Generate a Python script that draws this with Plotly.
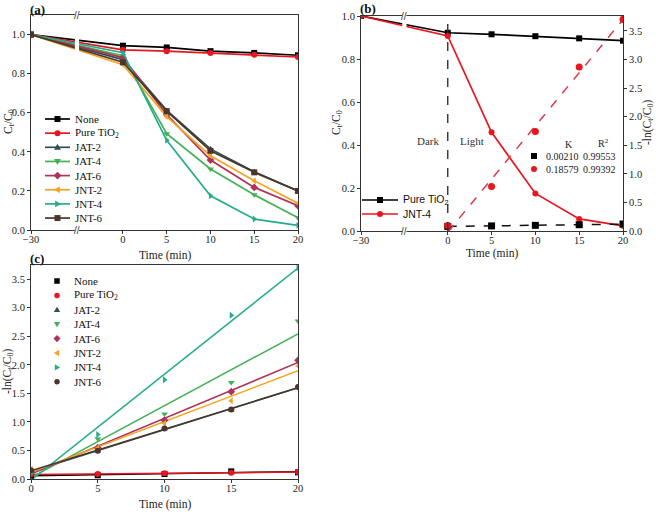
import numpy as np
import plotly.graph_objects as go

W, H = 656, 512

# ---------------- data ----------------
time_a = [-30, 0, 5, 10, 15, 20]
time_c = [0, 5, 10, 15, 20]
time_ticks = [-30, 0, 5, 10, 15, 20]
time_tick_labels = ["\u221230", "0", "5", "10", "15", "20"]
break_time = -15

series = ["None", "Pure TiO<sub>2</sub>", "JAT-2", "JAT-4", "JAT-6", "JNT-2", "JNT-4", "JNT-6"]

# Ct/C0 (panel a, b)
ct_none = [1.0, 0.943, 0.934, 0.915, 0.906, 0.894]
ct_pure = [1.0, 0.922, 0.915, 0.906, 0.896, 0.885]
ct_jat2 = [1.0, 0.872, 0.612, 0.415, 0.298, 0.200]
ct_jat4 = [1.0, 0.892, 0.493, 0.312, 0.180, 0.063]
ct_jat6 = [1.0, 0.882, 0.590, 0.358, 0.218, 0.124]
ct_jnt2 = [1.0, 0.846, 0.580, 0.380, 0.252, 0.137]
ct_jnt4 = [1.0, 0.907, 0.459, 0.175, 0.056, 0.024]
ct_jnt6 = [1.0, 0.858, 0.608, 0.405, 0.295, 0.200]

# -ln(Ct/C0) (panel b right axis, panel c)
ln_none = [0.060, 0.066, 0.088, 0.134, 0.116]
ln_pure = [0.080, 0.089, 0.099, 0.110, 0.122]
ln_jat2 = [0.137, 0.491, 0.880, 1.210, 1.610]
ln_jat4 = [0.114, 0.707, 1.140, 1.690, 2.770]
ln_jat6 = [0.126, 0.548, 1.030, 1.530, 2.080]
ln_jnt2 = [0.167, 0.545, 0.975, 1.370, 1.980]
ln_jnt4 = [0.098, 0.780, 1.740, 2.870, 3.700]
ln_jnt6 = [0.153, 0.497, 0.885, 1.220, 1.610]

k_labels = ["0.00210", "0.18579"]
r2_labels = ["0.99553", "0.99392"]

ct_all = [ct_none, ct_pure, ct_jat2, ct_jat4, ct_jat6, ct_jnt2, ct_jnt4, ct_jnt6]
ln_all = [ln_none, ln_pure, ln_jat2, ln_jat4, ln_jat6, ln_jnt2, ln_jnt4, ln_jnt6]

# ---------------- styles ----------------
colors = ["#000000", "#e8161e", "#2f4f50", "#45b157", "#ad3358", "#f4a420", "#24ad8b", "#4b362c"]
symbols_a = ["square", "circle", "triangle-up", "triangle-down", "diamond",
             "triangle-left", "triangle-right", "square"]
symbols_c = ["square", "circle", "triangle-up", "triangle-down", "diamond",
             "triangle-left", "triangle-right", "circle"]
SERIF = "Liberation Serif, Times New Roman, serif"
SANS = "Liberation Sans, Arial, sans-serif"
AX = "#333333"
K_A, K_B = 0.35, 0.33   # compression of the pre-zero (dark) segment of the broken axis


def axis_pos(ts, k):
    return [t * k if t < 0 else t for t in ts]


fig = go.Figure()

# ---------------- panel (a) ----------------
for i, name in enumerate(series):
    fig.add_trace(go.Scatter(
        x=axis_pos(time_a, K_A), y=ct_all[i], mode="lines+markers", name=name,
        xaxis="x", yaxis="y", showlegend=False,
        line=dict(color=colors[i], width=1.7),
        marker=dict(symbol=symbols_a[i], size=6, color=colors[i])))

# ---------------- panel (b) ----------------
b_idx = [1, 6]
b_colors = ["#000000", "#e8161e"]
b_symbols = ["square", "circle"]
for j, i in enumerate(b_idx):
    fig.add_trace(go.Scatter(
        x=axis_pos(time_a, K_B), y=ct_all[i], mode="lines+markers", name=series[i],
        xaxis="x2", yaxis="y2", showlegend=False,
        line=dict(color=b_colors[j], width=1.7),
        marker=dict(symbol=b_symbols[j], size=6, color=b_colors[j])))
fit_colors_b = ["#111111", "#dd3a4a"]
for j, i in enumerate(b_idx):
    slope, icpt = np.polyfit(time_c, ln_all[i], 1)
    fx = np.array([time_c[0], time_c[-1]], dtype=float)
    fig.add_trace(go.Scatter(
        x=fx, y=slope * fx + icpt, mode="lines", xaxis="x2", yaxis="y3", showlegend=False,
        line=dict(color=fit_colors_b[j], width=1.5, dash="dash")))
    fig.add_trace(go.Scatter(
        x=time_c, y=ln_all[i], mode="markers", xaxis="x2", yaxis="y3", showlegend=False,
        marker=dict(symbol=b_symbols[j], size=7, color=b_colors[j])))

# ---------------- panel (c) ----------------
for i, name in enumerate(series):
    slope, icpt = np.polyfit(time_c, ln_all[i], 1)
    fx = np.array([time_c[0], time_c[-1]], dtype=float)
    fig.add_trace(go.Scatter(
        x=fx, y=slope * fx + icpt, mode="lines", xaxis="x3", yaxis="y4", showlegend=False,
        line=dict(color=colors[i], width=1.5)))
for i, name in enumerate(series):
    fig.add_trace(go.Scatter(
        x=time_c, y=ln_all[i], mode="markers", name=name, xaxis="x3", yaxis="y4",
        showlegend=False, marker=dict(symbol=symbols_c[i], size=6, color=colors[i])))

# ---------------- axes ----------------
def ax_style(**kw):
    d = dict(showline=True, linecolor=AX, linewidth=1, mirror=True, ticks="outside",
             ticklen=3, tickwidth=1, tickcolor=AX, showgrid=False, zeroline=False,
             automargin=False, tickfont=dict(family=SERIF, size=10.5, color="#222"))
    d.update(kw)
    return d

XSTAND = -4
fig.update_layout(
    xaxis=ax_style(domain=[31 / W, 298 / W], anchor="y", ticklabelstandoff=XSTAND,
                   range=[axis_pos([-30], K_A)[0], 20],
                   tickmode="array", tickvals=axis_pos(time_ticks, K_A), ticktext=time_tick_labels),
    yaxis=ax_style(domain=[1 - 230 / H, 1 - 15 / H], anchor="x", range=[0, 1.1],
                   tick0=0, dtick=0.2, tickformat=".1f"),
    xaxis2=ax_style(domain=[361 / W, 623 / W], anchor="y2", ticklabelstandoff=XSTAND,
                    range=[axis_pos([-30], K_B)[0], 20],
                    tickmode="array", tickvals=axis_pos(time_ticks, K_B), ticktext=time_tick_labels),
    yaxis2=ax_style(domain=[1 - 231 / H, 1 - 16 / H], anchor="x2", range=[0, 1.0],
                    tick0=0, dtick=0.2, tickformat=".1f"),
    yaxis3=ax_style(overlaying="y2", side="right", anchor="x2", range=[0, 3.76],
                    tick0=0, dtick=0.5, tickformat=".1f", mirror=False),
    xaxis3=ax_style(domain=[31 / W, 298 / W], anchor="y4", range=[0, 20], tick0=0, dtick=5,
                    ticklabelstandoff=XSTAND),
    yaxis4=ax_style(domain=[1 - 479 / H, 1 - 265 / H], anchor="x3", range=[0, 3.75],
                    tick0=0, dtick=0.5, tickformat=".1f"),
    width=W, height=H, margin=dict(l=0, r=0, t=0, b=0, autoexpand=False),
    paper_bgcolor="white", plot_bgcolor="white", showlegend=False,
)

shapes = []
annots = []


def P(x, y):
    return f"{x / W:.5f},{1 - y / H:.5f}"


def text_ann(text, x, y, font, anchor="left", angle=0):
    return dict(text=text, xref="paper", yref="paper", x=x / W, y=1 - y / H, xanchor=anchor,
                yanchor="middle", showarrow=False, font=font, textangle=angle)


# axis titles
tfont = dict(family=SERIF, size=11.5, color="#222")
ct_title = "C<sub>t</sub>/C<sub>0</sub>"
ln_title = "-ln(C<sub>t</sub>/C<sub>0</sub>)"
annots += [
    text_ann("Time (min)", 165, 255, tfont, "center"),
    text_ann(ct_title, 9, 122, tfont, "center", -90),
    text_ann("Time (min)", 492, 253.5, tfont, "center"),
    text_ann(ct_title, 337, 123, tfont, "center", -90),
    text_ann(ln_title, 648, 123, tfont, "center", -90),
    text_ann("Time (min)", 165, 504, tfont, "center"),
    text_ann(ln_title, 8, 372, tfont, "center", -90),
]

# axis breaks
for xa, ya, k in [("x", "y", K_A), ("x2", "y2", K_B)]:
    bx = axis_pos([break_time], k)[0]
    shapes.append(dict(type="rect", xref=xa, yref=f"{ya} domain", x0=bx - 0.24, x1=bx + 0.24,
                       y0=-0.02, y1=1.02, fillcolor="white", line=dict(width=0), layer="above"))
    for yv in (0, 1):
        annots.append(dict(text="//", xref=xa, yref=f"{ya} domain", x=bx, y=yv, showarrow=False,
                           xanchor="center", yanchor="middle",
                           font=dict(family=SANS, size=10, color=AX)))

# dark/light divider in (b)
shapes.append(dict(type="line", xref="x2", yref="y2 domain", x0=0, x1=0, y0=0, y1=1,
                   line=dict(color=AX, width=1.4, dash="dash")))
annots.append(text_ann("Dark", 441, 141, dict(family=SERIF, size=11, color="#333"), "right"))
annots.append(text_ann("Light", 458, 141, dict(family=SERIF, size=11, color="#333"), "left"))


def marker_shape(symbol, cx, cy, s, color):
    h = s / 2
    if symbol == "square":
        return dict(type="rect", xref="paper", yref="paper", x0=(cx - h) / W, x1=(cx + h) / W,
                    y0=1 - (cy + h) / H, y1=1 - (cy - h) / H, fillcolor=color, line=dict(width=0))
    if symbol == "circle":
        return dict(type="circle", xref="paper", yref="paper", x0=(cx - h) / W, x1=(cx + h) / W,
                    y0=1 - (cy + h) / H, y1=1 - (cy - h) / H, fillcolor=color, line=dict(width=0))
    pts = {
        "triangle-up": [(0, -1.15), (1.15, 0.8), (-1.15, 0.8)],
        "triangle-down": [(0, 1.15), (1.15, -0.8), (-1.15, -0.8)],
        "triangle-left": [(-1.15, 0), (0.8, -1.15), (0.8, 1.15)],
        "triangle-right": [(1.15, 0), (-0.8, -1.15), (-0.8, 1.15)],
        "diamond": [(0, -1.3), (1.3, 0), (0, 1.3), (-1.3, 0)],
    }[symbol]
    path = "M " + " L ".join(P(cx + h * dx, cy + h * dy) for dx, dy in pts) + " Z"
    return dict(type="path", xref="paper", yref="paper", path=path, fillcolor=color,
                line=dict(width=0))


# legend (a)
for i, name in enumerate(series):
    cy = 119 + 14.15 * i
    shapes.append(dict(type="line", xref="paper", yref="paper", x0=45 / W, x1=70 / W,
                       y0=1 - cy / H, y1=1 - cy / H, line=dict(color=colors[i], width=1.7)))
    shapes.append(marker_shape(symbols_a[i], 57.5, cy, 6, colors[i]))
    annots.append(text_ann(name, 73, cy, dict(family=SERIF, size=11, color="#111")))

# legend (b)
for j, i in enumerate(b_idx):
    cy = 200 + 14 * j
    shapes.append(dict(type="line", xref="paper", yref="paper", x0=362 / W, x1=398 / W,
                       y0=1 - cy / H, y1=1 - cy / H, line=dict(color=b_colors[j], width=1.7)))
    shapes.append(marker_shape(b_symbols[j], 380, cy, 6, b_colors[j]))
    annots.append(text_ann(series[i], 401, cy, dict(family=SANS, size=10.5, color="#111")))

# K / R2 table in (b)
tf = dict(family=SERIF, size=10, color="#222")
annots.append(text_ann("K", 569, 144, tf, "center"))
annots.append(text_ann("R<sup>2</sup>", 603, 143, tf, "center"))
for j in range(2):
    cy = 156 + 13 * j
    shapes.append(marker_shape(b_symbols[j], 534, cy, 6, b_colors[j]))
    annots.append(text_ann(k_labels[j], 562, cy, tf, "center"))
    annots.append(text_ann(r2_labels[j], 599, cy, tf, "center"))

# legend (c)
for i, name in enumerate(series):
    cy = 281 + 14.4 * i
    shapes.append(marker_shape(symbols_c[i], 57, cy, 5.5, colors[i]))
    annots.append(text_ann(name, 72, cy, dict(family=SERIF, size=11, color="#111")))

# panel labels
lab = dict(family=SERIF, size=13, color="#111")
annots.append(text_ann("<b>(a)</b>", 28, 9, lab))
annots.append(text_ann("<b>(b)</b>", 358, 8, lab))
annots.append(text_ann("<b>(c)</b>", 28, 258, lab))

fig.update_layout(shapes=shapes, annotations=annots)
# remove the browser's default 8px page margin so the 656x512 figure fills the window
fig.write_html("out.html", config={"displayModeBar": False},
               post_script="document.body.style.margin='0px';")
